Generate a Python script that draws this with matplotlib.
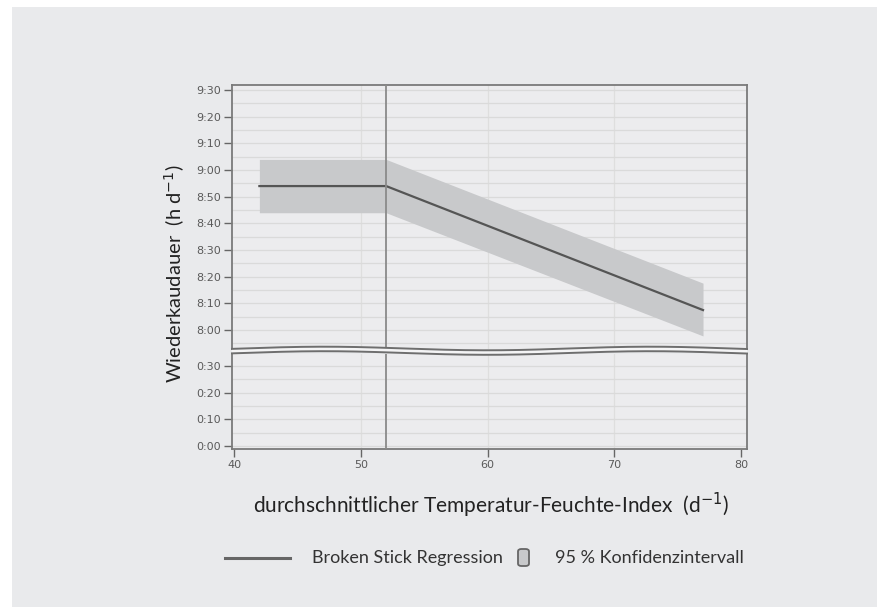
import matplotlib
matplotlib.use("Agg")
import matplotlib.pyplot as plt
import numpy as np
from matplotlib.patches import Rectangle, FancyBboxPatch
from matplotlib.lines import Line2D

# ---- data (y in minutes) ----
thi = [42, 52, 77]
fit = [534, 534, 487.5]
ci_upper = [544, 544, 497.6]
ci_lower = [524, 524, 477.8]
breakpoint_x = 52

upper_ticks = [480, 490, 500, 510, 520, 530, 540, 550, 560, 570]
upper_labels = ["8:00", "8:10", "8:20", "8:30", "8:40", "8:50", "9:00", "9:10", "9:20", "9:30"]
lower_ticks = [0, 10, 20, 30]
lower_labels = ["0:00", "0:10", "0:20", "0:30"]
x_ticks = [40, 50, 60, 70, 80]

FONT = "Lato"
TICKFONT = "DejaVu Sans"
W, H = 877, 607
fig = plt.figure(figsize=(W / 100, H / 100), dpi=100)
fig.patch.set_facecolor("white")
# gray background panel
fig.patches.append(Rectangle((12 / W, 0), 1, 1 - 7 / H, transform=fig.transFigure,
                             facecolor="#e9eaec", edgecolor="none", zorder=-10))

def fx(px):
    return px / W

def fy(py):
    return 1 - py / H

left, right = 232, 747
axU = fig.add_axes([fx(left), fy(349), fx(right - left), fy(85) - fy(349)])
axL = fig.add_axes([fx(left), fy(449), fx(right - left), fy(354) - fy(449)])

face = "#ececee"
spine_c = "#7a7a7a"
grid_c = "#dadada"
for ax in (axU, axL):
    ax.set_facecolor(face)
    ax.set_xlim(39.84, 80.47)
    for s in ax.spines.values():
        s.set_color(spine_c)
        s.set_linewidth(1.3)
    ax.tick_params(axis="both", colors="#666666", labelcolor="#5a5a5a", labelsize=8,
                   length=6, width=1, direction="out", pad=2)
    for xv in [50, 60, 70]:
        ax.axvline(xv, color="#dedede", lw=0.9, zorder=1)
    ax.axvline(breakpoint_x, color="#8a8a8a", lw=1.3, zorder=4)

axU.set_ylim(472.9, 571.9)
axL.set_ylim(-1.1, 34.5)
for yv in np.arange(475, 571, 5):
    axU.axhline(yv, color=grid_c, lw=0.9, zorder=1)
for yv in np.arange(0, 35, 5):
    axL.axhline(yv, color=grid_c, lw=0.9, zorder=1)

axU.set_yticks(upper_ticks)
axU.set_yticklabels(upper_labels, family=TICKFONT)
axU.set_xticks([])
axU.spines["bottom"].set_visible(False)
axL.set_yticks(lower_ticks)
axL.set_yticklabels(lower_labels, family=TICKFONT)
axL.set_xticks(x_ticks)
axL.set_xticklabels([str(v) for v in x_ticks], family=TICKFONT)
axL.spines["top"].set_visible(False)

axU.fill_between(thi, ci_lower, ci_upper, color="#c8c9cb", lw=0, zorder=2)
axU.plot(thi, fit, color="#555555", lw=1.6, zorder=3)

# wavy break lines (figure pixel coordinates)
xs = np.linspace(left, right, 200)
t = (xs - left) / (right - left)
wave = 1.8 * np.cos(2 * np.pi * (t - 0.179) / 0.633)
y1 = 348.5 - wave
y2 = 353.0 - wave
fig.patches.append(plt.Polygon(np.column_stack([fx(np.r_[xs, xs[::-1]]), fy(np.r_[y1, y2[::-1]])]),
                               closed=True, transform=fig.transFigure,
                               facecolor="#f4f4f5", edgecolor="none", zorder=5))
fig.lines.append(Line2D(fx(xs), fy(y1), transform=fig.transFigure, color="#6e6e6e", lw=1.4, zorder=6))
fig.lines.append(Line2D(fx(xs), fy(y2), transform=fig.transFigure, color="#6e6e6e", lw=1.4, zorder=6))

# axis labels
fig.text(fx(175), fy(274), "Wiederkaudauer  (h d$^{-1}$)", rotation=90, ha="center", va="center",
         fontsize=14.5, family=FONT, color="#222222")
fig.text(fx(491), fy(505), "durchschnittlicher Temperatur-Feuchte-Index  (d$^{-1}$)", ha="center",
         va="center", fontsize=15, family=FONT, color="#222222")

# legend
fig.lines.append(Line2D([fx(225), fx(290)], [fy(558), fy(558)], transform=fig.transFigure,
                        color="#666666", lw=2.2))
fig.text(fx(312), fy(558), "Broken Stick Regression", ha="left", va="center", fontsize=13,
         family=FONT, color="#333333")
fig.patches.append(FancyBboxPatch((fx(518), fy(566)), fx(11), fy(549) - fy(566),
                                  boxstyle="round,pad=0,rounding_size=0.004",
                                  transform=fig.transFigure, facecolor="#c8c9cb",
                                  edgecolor="#666666", lw=1.3))
fig.text(fx(555), fy(558), "95 % Konfidenzintervall", ha="left", va="center", fontsize=13,
         family=FONT, color="#333333")

fig.savefig("out.png", dpi=100, facecolor=fig.get_facecolor())
